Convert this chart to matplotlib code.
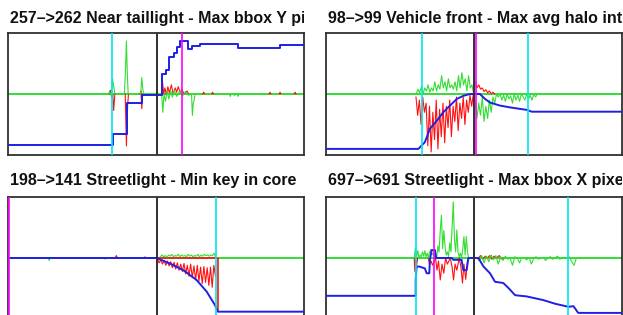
import numpy as np
import matplotlib
matplotlib.use("Agg")
import matplotlib.pyplot as plt
from matplotlib.transforms import Bbox, TransformedBbox

nan = np.nan

titles = [
    "257\u2013>262 Near taillight - Max bbox Y pixel",
    "98\u2013>99 Vehicle front - Max avg halo intensity",
    "198\u2013>141 Streetlight - Min key in core",
    "697\u2013>691 Streetlight - Max bbox X pixel",
]

# ---------- panel 1 ----------
p1_cyan = [35.0]
p1_black = [50.2]
p1_magenta = [58.7]
p1_blue_x = [0, 35.4, 40.1, 45.2, 51.9, 53.3, 54.5, 56.1, 57.2, 58.1, 60.9, 62.3, 64.9, 77.7, 91.9, 100]
p1_blue_y = [-0.84, -0.66, -0.14, -0.02, 0.33, 0.39, 0.6, 0.68, 0.77, 0.87, 0.74, 0.78, 0.82, 0.75, 0.81, 0.81]
p1_red_x = [34.2, 34.6, 35.0, 35.4, 35.7, 36.1, nan, 39.6, 40.0, 40.4, 40.7, nan,
            44.6, 44.9, 45.2, 45.5, nan,
            51.9, 52.2, 52.6, 53.0, 53.5, 54.0, 54.5, 55.2, 55.8, 56.5, 57.0, 57.5, 58.2, 58.7, 59.5, 60.5, 61.0, nan,
            65.8, 66.1, 66.4, nan, 68.8, 69.1, 69.4, nan, 88.2, 88.5, 88.8, nan, 91.6, 91.9, 92.2, nan, 96.7, 97.0, 97.3]
p1_red_y = [0, 0.06, -0.05, 0, -0.27, 0, nan, 0, -0.85, -0.2, 0, nan,
            0, 0.05, -0.24, 0, nan,
            0, 0.2, 0.0, 0.1, -0.02, 0.12, 0.02, 0.15, 0.0, 0.1, 0.03, 0.12, 0.02, 0.08, 0.0, 0.05, 0, nan,
            0, 0.03, 0, nan, 0, 0.03, 0, nan, 0, 0.03, 0, nan, 0, 0.03, 0, nan, 0, 0.03, 0]
p1_green_x = [34.0, 34.3, 34.6, nan, 35.0, 35.3, 35.8, 36.1, nan, 39.3, 39.7, 40.0, 40.3, 40.6, nan,
              44.8, 45.2, 45.5, 45.8, nan,
              51.9, 52.3, 52.7, 53.2, 53.8, 54.3, 55.0, 55.5, 56.2, 57.0, 58.0, 59.0, 60.0, 61.0, 62.0, 62.3, 62.6, 62.9, 63.2, nan,
              74.8, 75.1, 75.4, 76.2, 76.5, 76.8, 77.4, 77.7, 78.0]
p1_green_y = [0, 0.05, 0, nan, 0, 0.25, 0.1, 0, nan, 0, 0.4, 0.87, 0.35, 0, nan,
              0, 0.27, 0.1, 0, nan,
              0, -0.3, 0, -0.12, 0.05, -0.08, 0.05, -0.05, 0.06, -0.04, 0.05, -0.03, 0.04, -0.02, 0, -0.35, -0.15, -0.1, 0, nan,
              0, -0.04, 0, 0, -0.03, 0, 0, -0.04, 0]

# ---------- panel 2 ----------
p2_cyan = [32.5, 68.4]
p2_black = [50.1]
p2_magenta = [50.7]
p2_blue_x = [0, 31.2, 33.4, 35.1, 37.4, 39.6, 41.9, 44.2, 46.4, 48.6, 52.0, 53.7, 55.4, 58.8, 62.2, 67.8, 69.5, 100]
p2_blue_y = [-0.9, -0.9, -0.79, -0.57, -0.44, -0.30, -0.19, -0.08, -0.03, 0.0, 0.0, -0.08, -0.14, -0.19, -0.22, -0.26, -0.29, -0.29]
p2_red_start, p2_red_step = 30.4, 0.57
p2_red = [-0.05, -0.35, -0.1, -0.5, -0.05, -0.3, -0.15, -0.85, -0.2, -0.95, -0.3, -0.75, -0.1, -0.9,
          -0.25, -0.7, -0.15, -0.8, -0.2, -0.55, -0.1, -0.7, -0.2, -0.45, -0.05, -0.6, -0.15, -0.4,
          -0.05, -0.5, -0.1, -0.3, -0.02, -0.2, 0.0]
p2_red2_start, p2_red2_step = 50.4, 0.6
p2_red2 = [0.2, 0.1, 0.15, 0.08, 0.1, 0.04, 0.07, 0.02, 0.05, 0.0, 0.03, 0.0]
p2_green_start, p2_green_step = 30.5, 0.57
p2_green = [0.0, 0.08, 0.02, 0.12, 0.0, 0.1, 0.05, 0.15, 0.03, 0.1, 0.05, 0.2, 0.05, 0.15, 0.08, 0.3,
            0.1, 0.2, 0.05, 0.25, 0.1, 0.15, 0.08, 0.2, 0.05, 0.3, 0.1, 0.35, 0.15, 0.25, 0.05, 0.3,
            0.1, 0.15, 0.0]
p2_green2_start, p2_green2_step = 50.4, 0.6
p2_green2 = [-0.1, -0.4, -0.15, -0.35, -0.05, -0.45, -0.2, -0.4, -0.1, -0.3, -0.05, -0.15, 0.0, -0.05,
             0.0, -0.1, -0.02, -0.12, 0.0, -0.08, -0.03, -0.15, 0.0, -0.1, -0.02, -0.12, 0.0, -0.05,
             -0.1, 0.0, -0.08, -0.02, -0.1, 0.0, -0.05, 0.0]

# ---------- panel 3 ----------
p3_cyan = [70.2]
p3_black = [50.2]
p3_magenta = [0.5]
p3_blue_x = [0, 50.2, 54.7, 59.2, 63.7, 67.1, 69.9, 70.9, 100]
p3_blue_y = [0, 0, -0.09, -0.2, -0.36, -0.55, -0.77, -0.88, -0.88]
p3_red_start, p3_red_step = 50.5, 0.56
p3_red = [-0.02, -0.08, -0.03, -0.1, -0.04, -0.12, -0.05, -0.13, -0.06, -0.16, -0.07, -0.18, -0.08,
          -0.2, -0.1, -0.22, -0.09, -0.26, -0.12, -0.3, -0.1, -0.32, -0.13, -0.36, -0.12, -0.38,
          -0.15, -0.42, -0.14, -0.4, -0.16, -0.45, -0.15, -0.48, -0.12, -0.3]
p3_red_base_x = [50.5, 71.0, 71.0]
p3_red_base_y = [0.0, 0.0, -0.86]
p3_red_bumps_x = [36.2, 36.6, 37.0, nan, 46.0, 46.3, 46.6]
p3_red_bumps_y = [0, 0.04, 0, nan, 0, 0.02, 0]
p3_green_start, p3_green_step = 51.5, 0.55
p3_green = [0.02, 0.05, 0.02, 0.04, 0.01, 0.05, 0.03, 0.06, 0.02, 0.04, 0.03, 0.06, 0.02, 0.05, 0.03,
            0.04, 0.02, 0.06, 0.03, 0.05, 0.02, 0.04, 0.03, 0.06, 0.02, 0.05, 0.03, 0.06, 0.04, 0.05,
            0.03, 0.05, 0.04, 0.08, 0.0]
p3_green_bumps_x = [13.6, 13.9, 14.2, nan, 32.5, 32.8, 33.1]
p3_green_bumps_y = [0, -0.04, 0, nan, 0, -0.02, 0]

# ---------- panel 4 ----------
p4_cyan = [30.3, 81.9]
p4_black = [50.1]
p4_magenta = [36.6]
p4_blue_x = [0, 30.3, 30.3, 30.6, 31.5, 33.4, 34.0, 34.9, 35.1, 35.7, 36.8, 37.2, 42.5, 43.0, 45.8, 46.4,
             47.5, 48.1, 51.5, 53.2, 55.4, 57.1, 59.9, 61.6, 63.9, 67.8, 73.4, 77.4, 81.9, 83.6, 85.2, 100]
p4_blue_y = [-0.62, -0.62, -0.36, -0.14, -0.14, -0.17, -0.25, -0.25, -0.03, 0.13, 0.13, 0.0, 0.0, -0.03,
             -0.03, -0.2, -0.2, 0.0, 0.0, -0.14, -0.25, -0.39, -0.41, -0.49, -0.61, -0.63, -0.69,
             -0.75, -0.8, -0.79, -0.9, -0.9]
p4_red_x = [29.8, 30.0, 30.3, 30.6, 31.0, nan, 34.5, 35.0, 35.5, 36.0, 37.0, 37.5, 38.0, 38.6, 39.2, 39.8,
            40.4, 41.0, 42.0, 42.6, 43.1, 43.6, 44.2, 45.0, 45.6, 46.1, 46.6, 47.2, 47.8, 48.3, nan,
            51.5, 52.2, 53.0, 53.8, 54.5, 55.3, 56.0, 56.8, 57.6, 58.5, 59.5, 60.3]
p4_red_y = [0, -0.22, 0.02, -0.12, 0, nan, 0, -0.1, -0.05, -0.12, 0, -0.2, -0.05, -0.36, -0.1, -0.25,
            0.0, -0.1, 0, -0.15, -0.36, -0.1, -0.2, 0, -0.15, -0.41, -0.1, -0.35, -0.05, 0, nan,
            0, 0.04, -0.02, 0.03, 0.0, 0.04, -0.02, 0.03, 0.0, 0.04, -0.02, 0]
p4_green_start, p4_green_step = 29.8, 0.4
p4_green = [0, 0.16, 0.02, 0.12, 0.0, 0.05, 0.02, 0.1, 0.03, 0.12, 0.02, 0.08, 0.0, 0.1, 0.14, 0.05,
            0.08, 0.02, 0.05, 0.0, 0.2, 0.1, 0.45, 0.7, 0.15, 0.45, 0.2, 0.05, 0.1, 0.02, 0.25, 0.1,
            0.5, 0.92, 0.3, 0.1, 0.46, 0.1, 0.02, 0.08, 0.0, 0.15, 0.35, 0.05, 0.35, 0.1, 0.0, 0.0]
p4_green2_start, p4_green2_step = 51.0, 0.8
p4_green2 = [0.0, -0.05, 0.04, -0.08, 0.03, -0.06, 0.05, -0.03, 0.04, -0.1, 0.02, -0.04, 0.03, -0.02,
             0.0, -0.12, 0.02, 0.0, -0.08, 0.01, 0.0, -0.03, 0.01, -0.1, 0.0, 0.02, -0.02, 0.0, 0.01,
             -0.04, 0.0, 0.02, -0.02, 0.0, 0.03, -0.02, 0.0, 0.01, -0.01, 0.02, -0.06, -0.12, 0.0]

# ---------- styling ----------
W, H = 623, 315
BLUE = "#1f1fe6"
RED = "#ff1010"
GREEN = "#33dd33"
CYAN = "#00e8f0"
MAGENTA = "#ff00ff"
DARK = "#303030"

fig = plt.figure(figsize=(W / 100, H / 100), dpi=100)

# axes frames in pixels: (left, top, width, height)
frames = [(8, 33, 296, 122), (326, 33, 296, 122), (8, 197, 296, 122), (326, 197, 296, 122)]
title_pos = [(10, 18.5), (328, 18.5), (10, 180.5), (328, 180.5)]


def seq(start, step, vals):
    return start + step * np.arange(len(vals)), np.asarray(vals, dtype=float)


def make_axes(i):
    l, t, w, h = frames[i]
    ax = fig.add_axes([l / W, 1 - (t + h) / H, w / W, h / H])
    ax.set_xlim(0, 100)
    ax.set_ylim(-1, 1)
    ax.set_xticks([])
    ax.set_yticks([])
    for s in ax.spines.values():
        s.set_color(DARK)
        s.set_linewidth(1.3)
    ax.axhline(0, color=GREEN, lw=1.4, zorder=1)
    tx, ty = title_pos[i]
    txt = fig.text(tx / W, 1 - ty / H, titles[i], ha="left", va="center",
                   fontsize=11.5, fontweight="bold", family="Liberation Sans", color="#111111")
    clip = TransformedBbox(Bbox([[0, 0], [(l + w) / W, 1]]), fig.transFigure)
    txt.set_clip_box(clip)
    txt.set_clip_on(True)
    return ax


def verticals(ax, cyan, black, magenta):
    for x in cyan:
        ax.axvline(x, color=CYAN, lw=1.2, zorder=5)
    for x in magenta:
        ax.axvline(x, color=MAGENTA, lw=1.2, zorder=5)
    for x in black:
        ax.axvline(x, color=DARK, lw=1.4, zorder=5)


LW_S = 0.8
LW_B = 1.4

# panel 1
ax = make_axes(0)
ax.plot(p1_red_x, p1_red_y, color=RED, lw=LW_S, zorder=3)
ax.plot(p1_green_x, p1_green_y, color=GREEN, lw=LW_S, zorder=3)
ax.plot(p1_blue_x, p1_blue_y, color=BLUE, lw=LW_B, drawstyle="steps-post", zorder=4)
verticals(ax, p1_cyan, p1_black, p1_magenta)

# panel 2
ax = make_axes(1)
for st, sp, v, c in [(p2_red_start, p2_red_step, p2_red, RED),
                     (p2_red2_start, p2_red2_step, p2_red2, RED),
                     (p2_green_start, p2_green_step, p2_green, GREEN),
                     (p2_green2_start, p2_green2_step, p2_green2, GREEN)]:
    xx, yy = seq(st, sp, v)
    ax.plot(xx, yy, color=c, lw=LW_S, zorder=3)
ax.plot(p2_blue_x, p2_blue_y, color=BLUE, lw=LW_B, zorder=4)
verticals(ax, p2_cyan, p2_black, p2_magenta)

# panel 3
ax = make_axes(2)
xx, yy = seq(p3_red_start, p3_red_step, p3_red)
ax.plot(xx, yy, color=RED, lw=LW_S, zorder=3)
ax.plot(p3_red_base_x, p3_red_base_y, color=RED, lw=1.2, zorder=3)
ax.plot(p3_red_bumps_x, p3_red_bumps_y, color=RED, lw=LW_S, zorder=3)
xx, yy = seq(p3_green_start, p3_green_step, p3_green)
ax.plot(xx, yy, color=GREEN, lw=LW_S, zorder=3)
ax.plot(p3_green_bumps_x, p3_green_bumps_y, color=GREEN, lw=LW_S, zorder=3)
ax.plot(p3_blue_x, p3_blue_y, color=BLUE, lw=LW_B, zorder=4)
verticals(ax, p3_cyan, p3_black, p3_magenta)

# panel 4
ax = make_axes(3)
ax.plot(p4_red_x, p4_red_y, color=RED, lw=LW_S, zorder=3)
for st, sp, v in [(p4_green_start, p4_green_step, p4_green),
                  (p4_green2_start, p4_green2_step, p4_green2)]:
    xx, yy = seq(st, sp, v)
    ax.plot(xx, yy, color=GREEN, lw=LW_S, zorder=3)
ax.plot(p4_blue_x, p4_blue_y, color=BLUE, lw=LW_B, zorder=4)
verticals(ax, p4_cyan, p4_black, p4_magenta)

fig.savefig("out.png", dpi=100, facecolor="white")
